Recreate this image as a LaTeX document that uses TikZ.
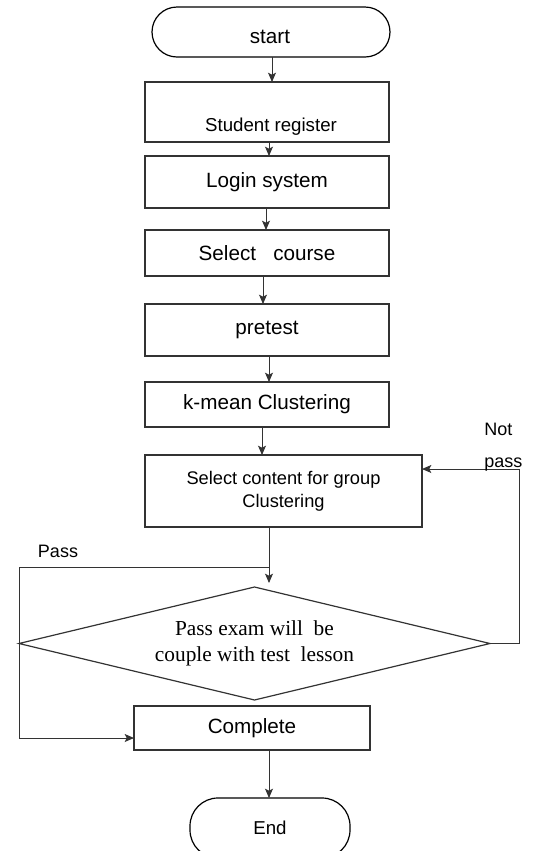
\documentclass[tikz,border=0pt]{standalone}
\usepackage{fontspec}
\setmainfont{Liberation Sans}
\newfontfamily\serifdia{Liberation Serif}
\usetikzlibrary{shapes.geometric,arrows.meta}
\definecolor{ink}{HTML}{333333}
\tikzset{
  boxnode/.style={draw=ink, line width=0.9pt, rectangle, inner sep=0pt, outer sep=0pt, align=center, font=\fontsize{15.5}{18}\selectfont},
  termnode/.style={draw=black, line width=0.9pt, rectangle, inner sep=0pt, outer sep=0pt},
  dianode/.style={draw=ink, line width=0.9pt, diamond, aspect=4.17, inner sep=0pt, outer sep=0pt, align=center, font=\serifdia\fontsize{16}{19}\selectfont},
  arr/.style={draw=ink, line width=0.7pt, -{Stealth[length=7pt,width=6pt,inset=1.5pt]}},
  lbl/.style={inner sep=0pt, font=\fontsize{13.5}{24}\selectfont, align=left}
}
\begin{document}
\begin{tikzpicture}[x=0.75pt,y=-0.75pt]
\useasboundingbox (0,0) rectangle (538,851);
% terminals
\node[termnode, rounded corners=18.75pt, minimum width=178.5pt, minimum height=37.5pt] (st) at (271,32) {};
\node[font=\fontsize{15.5}{18}\selectfont, inner sep=0pt] (stt) at (270,37) {start};
% process boxes
\node[boxnode, minimum width=183pt, minimum height=45pt] (b1) at (267,112) {};
\node[font=\fontsize{14}{17}\selectfont, inner sep=0pt] (b1t) at (271,127) {Student register};
\node[boxnode, minimum width=183pt, minimum height=39pt] (b2) at (267,182) {Login system};
\node[boxnode, minimum width=183pt, minimum height=34.5pt] (b3) at (267,253) {Select\ \ \ course};
\node[boxnode, minimum width=183pt, minimum height=39pt] (b4) at (267,330) {pretest};
\node[boxnode, minimum width=183pt, minimum height=33.75pt] (km) at (267,404.5) {k-mean Clustering};
\node[boxnode, minimum width=207.75pt, minimum height=54pt, font=\fontsize{13.7}{17}\selectfont] (sc) at (283.5,491) {Select content for group\\Clustering};
\node[dianode, minimum width=353.25pt, minimum height=84.75pt] (dia) at (254.5,643.5) {Pass exam will\ \ be\\couple with test\ \ lesson};
\node[boxnode, minimum width=177pt, minimum height=33pt] (cmp) at (252,728) {Complete};
\node[termnode, rounded corners=21pt, minimum width=120pt, minimum height=45pt, font=\fontsize{14}{17}\selectfont] (en) at (270,828) {End};
% main flow arrows
\draw[arr] ([xshift=0.75pt]st.south) -- ([xshift=3.75pt]b1.north);
\draw[arr] ([xshift=1.5pt]b1.south) -- ([xshift=1.5pt]b2.north);
\draw[arr] ([xshift=-0.75pt]b2.south) -- ([xshift=-0.75pt]b3.north);
\draw[arr] ([xshift=-3pt]b3.south) -- ([xshift=-3pt]b4.north);
\draw[arr] ([xshift=1.5pt]b4.south) -- ([xshift=1.5pt]km.north);
\draw[arr] ([xshift=-3.75pt]km.south) -- ([xshift=-16.125pt]sc.north);
\draw[arr] ([xshift=-10.875pt]sc.south) -- ([xshift=10.875pt,yshift=3pt]dia.north);
\draw[arr] ([xshift=12.75pt]cmp.south) -- ([xshift=-0.75pt]en.north);
% pass branch
\coordinate (pj) at ([xshift=-10.875pt,yshift=-30pt]sc.south);
\coordinate (cin) at ([yshift=-7.5pt]cmp.west);
\coordinate (pc) at (cin -| dia.west);
\draw[arr] (pj) -| (pc) -- (cin);
\node[lbl] (passl) at (58,551) {Pass};
% not pass branch
\coordinate (scin) at ([yshift=16.5pt]sc.east);
\draw[arr] (dia.east) -- ++(21.75pt,0) |- (scin);
\node[lbl, anchor=west] (npl) at (484,447) {Not\\pass};
\end{tikzpicture}
\end{document}
